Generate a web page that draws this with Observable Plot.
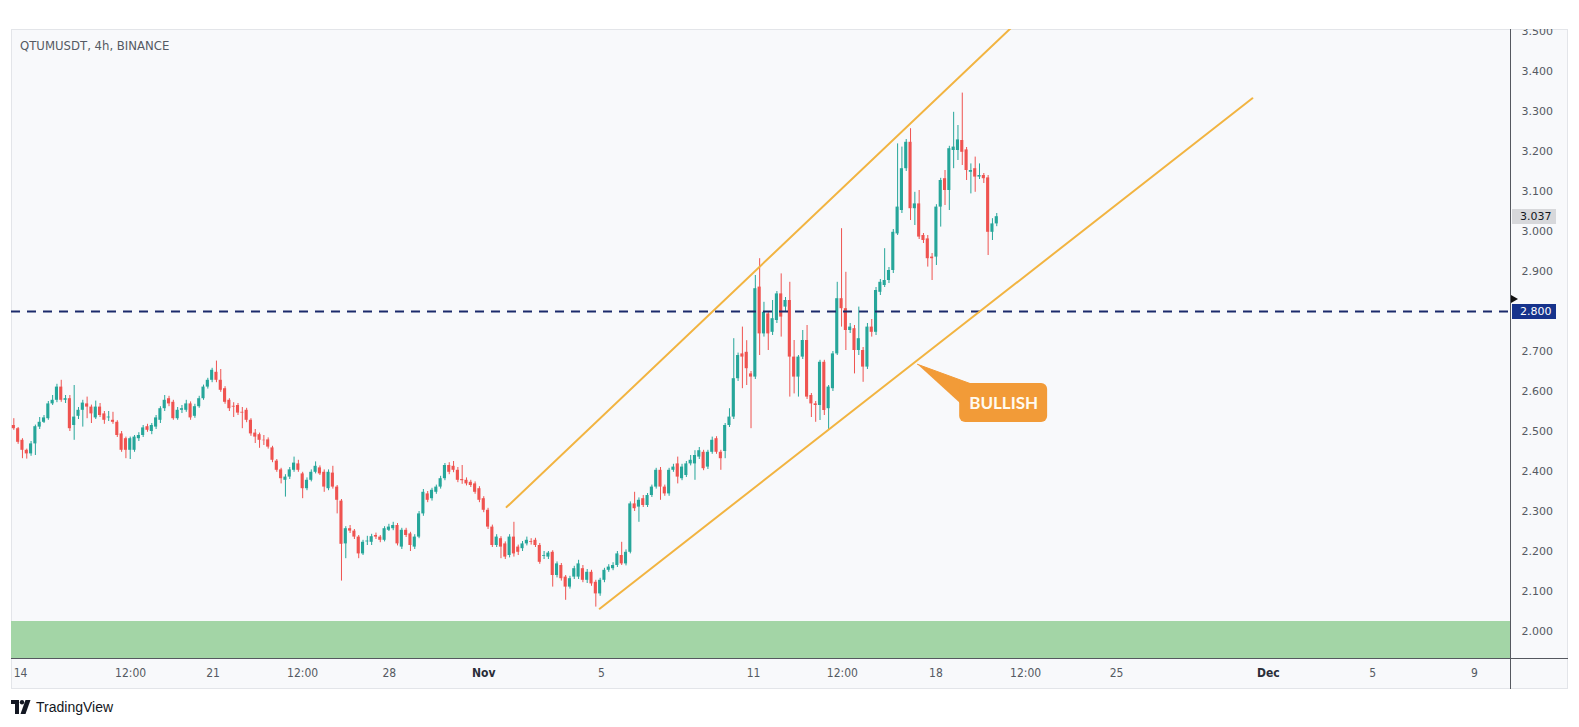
<!DOCTYPE html>
<html><head><meta charset="utf-8">
<script src="https://cdn.jsdelivr.net/npm/d3@7"></script>
<script src="https://cdn.jsdelivr.net/npm/@observablehq/plot@0.6"></script>
<style>
html,body{margin:0;padding:0;background:#fff;}
#wrap{position:relative;width:1579px;height:727px;overflow:hidden;font-family:"Liberation Sans",Arial,sans-serif;}
#panel{position:absolute;left:11px;top:29px;width:1557px;height:660px;background:#f8f9fb;border:1px solid #e3e5e9;box-sizing:border-box;}
#chart{position:absolute;left:0;top:0;}
.vline{position:absolute;left:1510px;top:29px;width:1px;height:660px;background:#55585f;}
.hline{position:absolute;left:11px;top:658px;width:1557px;height:1px;background:#55585f;}
#cover{position:absolute;left:1512px;top:0;width:67px;height:29px;background:#fff;}
#title{position:absolute;left:20px;top:38px;font-size:13px;color:#555a63;font-family:"Liberation Sans Narrow","DejaVu Sans Condensed",sans-serif;font-stretch:condensed;}
.plabel{position:absolute;left:1512px;width:44px;height:15px;line-height:15px;font-family:"DejaVu Sans",sans-serif;font-size:11px;padding-left:8px;box-sizing:border-box;}
#marker{position:absolute;left:1511px;width:0;height:0;border-top:4px solid transparent;border-bottom:4px solid transparent;border-left:7px solid #111;}
#logo{position:absolute;left:11px;top:699px;display:flex;align-items:center;gap:5px;font-size:14px;color:#131722;}
</style></head>
<body>
<div id="wrap">
  <div id="panel"></div>
  <div id="chart"></div>
  <div class="vline"></div>
  <div class="hline"></div>
  <div id="cover"></div>
  <div id="title">QTUMUSDT, 4h, BINANCE</div>
  <div id="logo"><svg width="20" height="14" viewBox="0 0 20 14"><path d="M0 0h8v14h-4v-10h-4z" fill="#131722"/><circle cx="11" cy="2.2" r="2.2" fill="#131722"/><path d="M14.5 0h5l-5 14h-5z" fill="#131722"/></svg><span>TradingView</span></div>
</div>
<script>
// ---- data (4h candles) ----
const open = [2.515,2.507,2.478,2.453,2.444,2.469,2.511,2.523,2.532,2.569,2.578,2.611,2.578,2.582,2.515,2.538,2.553,2.569,2.561,2.534,2.561,2.544,2.534,2.528,2.523,2.494,2.482,2.453,2.453,2.482,2.49,2.512,2.5,2.511,2.528,2.557,2.582,2.573,2.532,2.553,2.553,2.569,2.538,2.562,2.582,2.611,2.628,2.648,2.628,2.607,2.578,2.563,2.565,2.548,2.553,2.528,2.496,2.492,2.478,2.479,2.459,2.426,2.404,2.378,2.386,2.403,2.419,2.394,2.357,2.378,2.398,2.409,2.398,2.357,2.396,2.361,2.326,2.219,2.257,2.251,2.236,2.194,2.224,2.223,2.24,2.236,2.228,2.253,2.257,2.265,2.211,2.253,2.244,2.211,2.236,2.294,2.344,2.332,2.348,2.361,2.382,2.415,2.413,2.403,2.38,2.378,2.373,2.369,2.357,2.332,2.303,2.261,2.215,2.232,2.219,2.19,2.236,2.211,2.207,2.219,2.225,2.228,2.215,2.188,2.186,2.198,2.14,2.165,2.136,2.111,2.136,2.136,2.157,2.128,2.148,2.123,2.094,2.128,2.153,2.157,2.165,2.19,2.169,2.198,2.319,2.311,2.332,2.315,2.34,2.361,2.403,2.361,2.344,2.403,2.419,2.382,2.39,2.419,2.419,2.436,2.448,2.411,2.448,2.482,2.448,2.45,2.515,2.536,2.632,2.694,2.698,2.644,2.636,2.861,2.744,2.794,2.748,2.7775,2.844,2.811,2.8275,2.686,2.636,2.686,2.7275,2.59,2.569,2.565,2.673,2.557,2.607,2.694,2.832,2.807,2.7525,2.757,2.7025,2.7025,2.661,2.761,2.748,2.848,2.865,2.8775,2.9025,2.994,3.0525,3.157,3.223,3.057,3.069,2.99,2.9815,2.936,2.936,3.061,3.132,3.1025,3.2025,3.2025,3.2275,3.204,3.148,3.157,3.136,3.14,3.134,2.998,3.019];
const high = [2.532,2.51,2.482,2.456,2.475,2.516,2.535,2.54,2.575,2.59,2.618,2.628,2.59,2.59,2.615,2.56,2.578,2.586,2.566,2.576,2.57,2.55,2.55,2.548,2.527,2.5,2.486,2.486,2.49,2.497,2.515,2.518,2.52,2.54,2.562,2.59,2.588,2.578,2.56,2.565,2.578,2.574,2.568,2.588,2.616,2.633,2.658,2.676,2.655,2.612,2.582,2.572,2.57,2.56,2.558,2.532,2.505,2.496,2.49,2.484,2.463,2.43,2.408,2.392,2.41,2.436,2.428,2.398,2.384,2.404,2.424,2.414,2.404,2.404,2.413,2.365,2.33,2.262,2.265,2.255,2.24,2.228,2.238,2.243,2.246,2.24,2.262,2.268,2.273,2.27,2.258,2.258,2.248,2.242,2.3,2.355,2.35,2.358,2.366,2.388,2.42,2.422,2.425,2.41,2.415,2.384,2.378,2.374,2.362,2.337,2.308,2.266,2.242,2.237,2.224,2.242,2.273,2.216,2.225,2.236,2.232,2.233,2.22,2.2,2.2,2.202,2.174,2.17,2.14,2.138,2.163,2.178,2.165,2.155,2.153,2.128,2.133,2.158,2.167,2.172,2.2,2.223,2.204,2.324,2.348,2.334,2.34,2.345,2.366,2.408,2.41,2.366,2.408,2.418,2.436,2.418,2.425,2.44,2.452,2.46,2.453,2.453,2.486,2.487,2.453,2.52,2.557,2.732,2.696,2.761,2.727,2.65,2.89,2.932,2.823,2.8,2.8275,2.85,2.894,2.835,2.873,2.7275,2.69,2.7525,2.765,2.595,2.575,2.678,2.678,2.615,2.7,2.873,3.007,2.898,2.77,2.765,2.811,2.71,2.77,2.78,2.86,2.88,2.957,2.91,3.005,3.219,3.211,3.23,3.257,3.098,3.1025,2.995,2.99,2.945,3.067,3.133,3.1525,3.213,3.298,3.265,3.346,3.21,3.169,3.186,3.169,3.145,3.14,3.032,3.045];
const low = [2.503,2.468,2.432,2.431,2.438,2.44,2.505,2.52,2.528,2.565,2.572,2.573,2.57,2.5,2.478,2.53,2.511,2.532,2.52,2.53,2.535,2.518,2.525,2.518,2.485,2.448,2.432,2.43,2.448,2.475,2.485,2.498,2.492,2.505,2.52,2.55,2.562,2.528,2.528,2.545,2.548,2.528,2.533,2.558,2.578,2.606,2.622,2.622,2.598,2.568,2.55,2.535,2.54,2.507,2.522,2.488,2.47,2.458,2.465,2.456,2.422,2.398,2.369,2.336,2.38,2.398,2.398,2.332,2.352,2.374,2.394,2.39,2.348,2.352,2.356,2.294,2.126,2.182,2.245,2.23,2.182,2.19,2.215,2.215,2.23,2.222,2.224,2.25,2.252,2.214,2.205,2.235,2.2,2.205,2.232,2.288,2.322,2.326,2.343,2.356,2.377,2.392,2.397,2.372,2.368,2.364,2.36,2.343,2.322,2.297,2.255,2.21,2.21,2.182,2.18,2.184,2.186,2.19,2.2,2.214,2.216,2.21,2.168,2.18,2.18,2.111,2.134,2.126,2.078,2.106,2.13,2.13,2.122,2.12,2.113,2.061,2.088,2.122,2.148,2.152,2.16,2.165,2.164,2.194,2.3,2.273,2.31,2.31,2.335,2.356,2.328,2.338,2.338,2.398,2.369,2.377,2.385,2.414,2.378,2.43,2.402,2.405,2.443,2.443,2.403,2.432,2.51,2.53,2.625,2.607,2.615,2.507,2.63,2.69,2.736,2.7025,2.74,2.77,2.736,2.8,2.586,2.594,2.586,2.68,2.58,2.535,2.523,2.5275,2.54,2.5025,2.6,2.69,2.761,2.7025,2.745,2.644,2.69,2.623,2.655,2.736,2.74,2.84,2.86,2.87,2.895,2.99,3.045,3.15,3.0275,3.015,2.98,2.97,2.911,2.8775,2.915,3.011,3.065,3.0525,3.157,3.1775,3.165,3.1275,3.094,3.098,3.13,3.12,2.94,2.9775,3.012];
const close = [2.507,2.473,2.453,2.444,2.469,2.512,2.523,2.534,2.569,2.578,2.611,2.578,2.582,2.507,2.536,2.553,2.571,2.561,2.544,2.561,2.54,2.528,2.536,2.523,2.49,2.453,2.453,2.482,2.486,2.49,2.509,2.503,2.515,2.534,2.557,2.578,2.569,2.532,2.553,2.557,2.569,2.534,2.562,2.582,2.611,2.628,2.653,2.628,2.603,2.573,2.557,2.561,2.546,2.546,2.528,2.494,2.486,2.478,2.477,2.461,2.428,2.403,2.382,2.386,2.404,2.421,2.403,2.357,2.378,2.398,2.413,2.394,2.361,2.398,2.361,2.328,2.218,2.257,2.251,2.236,2.194,2.223,2.226,2.237,2.236,2.228,2.257,2.261,2.265,2.219,2.253,2.24,2.215,2.236,2.294,2.348,2.328,2.353,2.361,2.382,2.415,2.398,2.403,2.378,2.377,2.369,2.365,2.348,2.328,2.303,2.261,2.215,2.236,2.211,2.186,2.236,2.194,2.198,2.219,2.228,2.223,2.215,2.173,2.19,2.196,2.14,2.169,2.132,2.111,2.132,2.157,2.169,2.128,2.148,2.119,2.094,2.128,2.153,2.161,2.165,2.194,2.169,2.198,2.319,2.307,2.328,2.315,2.34,2.361,2.403,2.361,2.344,2.403,2.411,2.386,2.411,2.419,2.428,2.44,2.452,2.407,2.448,2.478,2.448,2.432,2.515,2.536,2.632,2.69,2.686,2.657,2.636,2.857,2.744,2.798,2.744,2.782,2.844,2.786,2.8275,2.686,2.636,2.686,2.7275,2.586,2.569,2.565,2.673,2.5525,2.611,2.694,2.832,2.807,2.7525,2.761,2.7025,2.732,2.661,2.761,2.748,2.8525,2.873,2.8775,2.9025,2.998,3.061,3.157,3.223,3.057,3.069,2.986,2.9775,2.932,2.932,3.061,3.1275,3.1025,3.207,3.211,3.229,3.198,3.1525,3.1525,3.136,3.14,3.132,2.998,3.019,3.037];

const priceTicks = [2.0,2.1,2.2,2.3,2.4,2.5,2.6,2.7,2.8,2.9,3.0,3.1,3.2,3.3,3.4,3.5];
const timeTickPos = [1.55,27.1,46.2,67,87.1,109,136.3,171.6,192.2,213.9,234.7,255.8,291,315.2,338.8];
const timeTickLabels = ["14","12:00","21","12:00","28","Nov","5","11","12:00","18","12:00","25","Dec","5","9"];
const monthLabels = ["Nov","Dec"];

const supportZone = {top: 2.025, bottom: 1.90};
const keyLevel = 2.8;
const lastPrice = 3.037;
const upperChannel = [{i:114.3, p:2.311},{i:232, p:3.516}];
const lowerChannel = [{i:135.9, p:2.057},{i:287.3, p:3.333}];
const calloutPointer = [{i:209.6, p:2.668},{i:221.8, p:2.62},{i:219.4, p:2.572}];
const calloutBox = {i1:219.4, i2:239.8, p1:2.5225, p2:2.62};
const calloutLabel = {i:229.6, p:2.571, text:"BULLISH"};

// ---- chart ----
const GREEN = "#26a69a", RED = "#ef5350";
const candles = open.map((o, i) => ({i, o, h: high[i], l: low[i], c: close[i]}));
const up = candles.filter(d => d.c >= d.o);
const down = candles.filter(d => d.c < d.o);
const tickLabel = new Map(timeTickPos.map((p, k) => [p, timeTickLabels[k]]));
const regularTicks = timeTickPos.filter(p => !monthLabels.includes(tickLabel.get(p)));
const monthTicks = timeTickPos.filter(p => monthLabels.includes(tickLabel.get(p)));

const plot = Plot.plot({
  width: 1579, height: 727,
  marginLeft: 11, marginRight: 68, marginTop: 29, marginBottom: 69,
  style: {background: "transparent", overflow: "visible"},
  x: {type: "linear", domain: [-0.54, 347.4], axis: null},
  y: {type: "linear", domain: [1.9325, 3.505], axis: null},
  marks: [
    Plot.rect([supportZone], {y1: "bottom", y2: "top", fill: "#a3d5a6", clip: true}),
    Plot.ruleX(up, {x: "i", y1: "l", y2: "h", stroke: GREEN, strokeWidth: 1}),
    Plot.ruleX(down, {x: "i", y1: "l", y2: "h", stroke: RED, strokeWidth: 1}),
    Plot.rect(up, {x1: d => d.i - 0.36, x2: d => d.i + 0.36, y1: "o", y2: "c", fill: GREEN}),
    Plot.rect(down, {x1: d => d.i - 0.36, x2: d => d.i + 0.36, y1: "o", y2: "c", fill: RED}),
    Plot.ruleY([keyLevel], {stroke: "#1b2a6b", strokeWidth: 2, strokeDasharray: "9,7"}),
    Plot.line(upperChannel, {x: "i", y: "p", stroke: "#f2b441", strokeWidth: 2, clip: true}),
    Plot.line(lowerChannel, {x: "i", y: "p", stroke: "#f2b441", strokeWidth: 2, clip: true}),
    Plot.line(calloutPointer, {x: "i", y: "p", fill: "#f29b38", stroke: "#f29b38", strokeWidth: 1}),
    Plot.rect([calloutBox], {x1: "i1", x2: "i2", y1: "p1", y2: "p2", fill: "#f29b38", rx: 6}),
    Plot.text([calloutLabel], {x: "i", y: "p", text: "text", fill: "#fffaf0", fontWeight: "bold", fontSize: 17, fontFamily: "Lato, 'Open Sans', sans-serif"}),
    Plot.axisY(priceTicks, {anchor: "right", tickSize: 0, tickPadding: 10, tickFormat: d3.format(".3f"), label: null, fontSize: 11, fill: "#555a62", fontFamily: "DejaVu Sans, sans-serif"}),
    Plot.axisX(regularTicks, {anchor: "bottom", tickSize: 0, tickPadding: 10, tickFormat: d => tickLabel.get(d), label: null, fontSize: 12, fill: "#555a62", fontFamily: "'Liberation Sans Narrow', 'DejaVu Sans Condensed', sans-serif"}),
    Plot.axisX(monthTicks, {anchor: "bottom", tickSize: 0, tickPadding: 10, tickFormat: d => tickLabel.get(d), label: null, fontSize: 12, fontWeight: "bold", fill: "#2a2e39", fontFamily: "'Liberation Sans Narrow', 'DejaVu Sans Condensed', sans-serif"})
  ]
});
document.getElementById("chart").appendChild(plot);

// price tags on the right axis, placed with the plot's own y scale
const ys = plot.scale("y");
const wrap = document.getElementById("wrap");
function tag(value, bg, fg) {
  const el = document.createElement("div");
  el.className = "plabel";
  el.style.top = (ys.apply(value) - 7.5) + "px";
  el.style.background = bg; el.style.color = fg;
  el.textContent = d3.format(".3f")(value);
  wrap.appendChild(el);
}
tag(lastPrice, "#d7d8db", "#131722");
tag(keyLevel, "#16338c", "#ffffff");
const mk = document.createElement("div");
mk.id = "marker";
mk.style.top = (ys.apply(keyLevel) - 16) + "px";
wrap.appendChild(mk);
</script>
</body></html>
